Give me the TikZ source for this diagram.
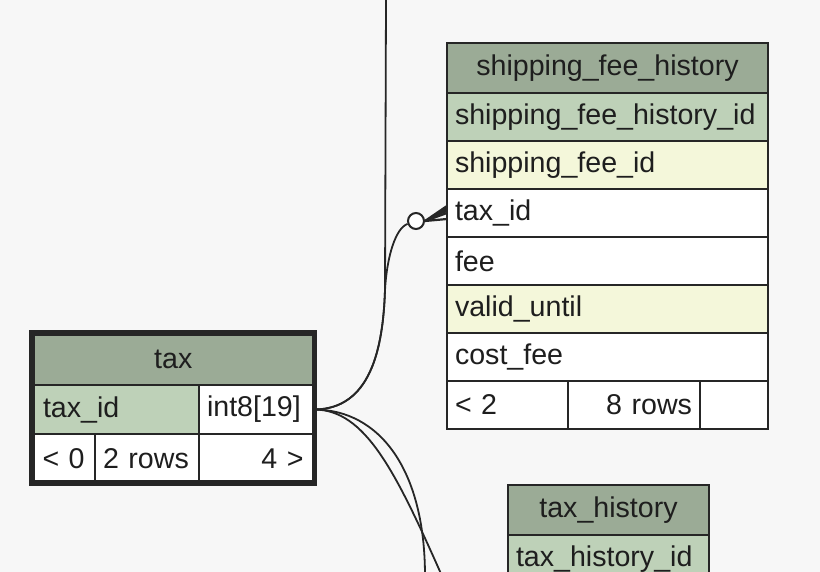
\documentclass[tikz,border=0pt]{standalone}
\usepackage{fontspec}
\setmainfont{Liberation Sans}
\usetikzlibrary{shapes,positioning}

\definecolor{bggray}{HTML}{F7F7F7}
\definecolor{hdrgreen}{HTML}{9BAB96}
\definecolor{pkgreen}{HTML}{BED1B8}
\definecolor{idxyellow}{HTML}{F4F7DA}
\definecolor{linegray}{HTML}{262626}
\definecolor{txtgray}{HTML}{1E1E1E}

\newcommand{\tabfont}{\fontsize{14.3}{17}\selectfont}

\tikzset{
    cell/.style={rectangle, draw=linegray, line width=1pt, outer sep=0pt,
        inner xsep=4pt, inner ysep=2pt, minimum height=24pt, align=left,
        text=txtgray, font=\tabfont},
    hdr/.style={cell, fill=hdrgreen, align=center, minimum height=25pt},
    pkey/.style={cell, fill=pkgreen},
    idx/.style={cell, fill=idxyellow},
    plain/.style={cell, fill=white},
    fk/.style={draw=linegray, line width=0.9pt}
}

\begin{document}
\begin{tikzpicture}[x=0.5pt, y=-0.5pt]

    % Background
    \fill [bggray] (0,0) rectangle (820,572);
    \useasboundingbox (0,0) rectangle (820,572);

    %-----Tables-----
    % Shipping Fee History Table
    \node [hdr, text width=152.5pt, anchor=north west] (sfh) at (447,43) {shipping\_fee\_history};
    \node [pkey, text width=152.5pt, below=0pt of sfh] (sfhid) {shipping\_fee\_history\_id};
    \node [idx, text width=152.5pt, below=0pt of sfhid] (sfhfee) {shipping\_fee\_id};
    \node [plain, text width=152.5pt, below=0pt of sfhfee] (sfhtax) {tax\_id};
    \node [plain, text width=152.5pt, below=0pt of sfhtax] (sfhamount) {fee};
    \node [idx, text width=152.5pt, below=0pt of sfhamount] (sfhvalid) {valid\_until};
    \node [plain, text width=152.5pt, below=0pt of sfhvalid] (sfhcost) {cost\_fee};
    \node [plain, text width=52.5pt, below=0pt of sfhcost.south west, anchor=north west] (sfhprev) {< 2};
    \node [plain, text width=58pt, align=right, right=0pt of sfhprev] (sfhrows) {8 rows};
    \node [plain, text width=26pt, right=0pt of sfhrows] (sfhnext) {};

    % Tax Table
    \node [hdr, text width=133.25pt, minimum height=26pt, anchor=north west] (tax) at (32,333) {tax};
    \node [pkey, text width=72.5pt, inner xsep=5.5pt, minimum height=24.5pt, below=0pt of tax.south west, anchor=north west] (taxid) {tax\_id};
    \node [plain, text width=49.75pt, minimum height=24.5pt, right=0pt of taxid] (taxtype) {int8[19]};
    \node [plain, text width=21pt, inner xsep=5.25pt, minimum height=24.5pt, below=0pt of taxid.south west, anchor=north west] (taxprev) {\mbox{< 0}};
    \node [plain, text width=44pt, minimum height=24.5pt, right=0pt of taxprev] (taxrows) {2 rows};
    \node [plain, text width=46.75pt, inner xsep=5.5pt, minimum height=24.5pt, align=right, right=0pt of taxrows] (taxnext) {4 >};
    \draw [draw=linegray, line width=2.75pt] (tax.north west) rectangle (taxnext.south east);

    % Tax History Table
    \node [hdr, text width=92.5pt, anchor=north west] (taxh) at (508,485) {tax\_history};
    \node [pkey, text width=92.5pt, below=0pt of taxh] (taxhid) {tax\_history\_id};

    %-----Relations-----
    \coordinate (uptop) at (386,0);
    \coordinate (downa) at (425,576);
    \coordinate (downb) at (442,576);
    \node [circle, draw=linegray, fill=white, line width=1pt, minimum size=8pt, inner sep=0pt] (sfhdot) at (416,221) {};

    \draw [fk] (taxtype.east) .. controls (370,409) and (383,350) .. (385,290) -- (uptop);
    \draw [fk] (taxtype.east) .. controls (370,409) and (383,350) .. (385,290)
        .. controls (387,255) and (396,228) .. (sfhdot);
    % crow's foot
    \fill [linegray] (sfhdot.east) -- ([yshift=3.5pt]sfhtax.west) -- ([yshift=0.5pt]sfhtax.west) -- cycle;
    \draw [fk, line width=1.1pt] (sfhdot.east) -- ([yshift=3.5pt]sfhtax.west);
    \draw [fk, line width=1.1pt] (sfhdot.east) -- (sfhtax.west);
    \draw [fk, line width=1.1pt] (sfhdot.east) -- ([yshift=-3pt]sfhtax.west);
    \draw [fk] (taxtype.east) .. controls (380,410) and (425,470) .. (downa);
    \draw [fk] (taxtype.east) .. controls (365,410) and (395,470) .. (downb);

\end{tikzpicture}
\end{document}
